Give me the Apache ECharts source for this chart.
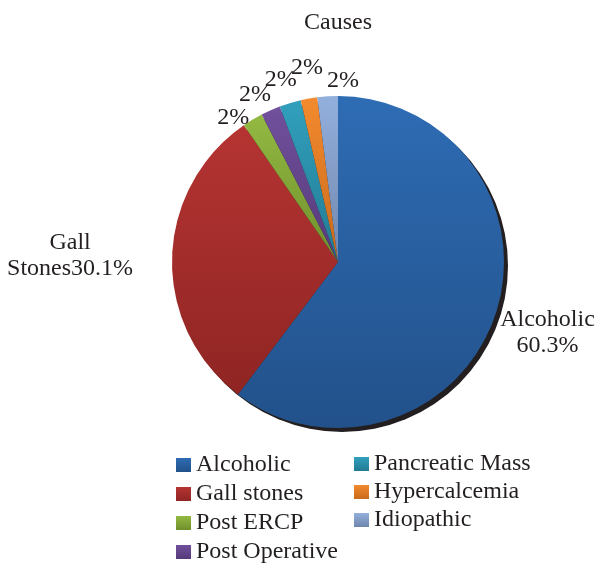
<!DOCTYPE html>
<html>
<head>
<meta charset="utf-8">
<script src="https://cdn.jsdelivr.net/npm/echarts@6/dist/echarts.min.js"></script>
<style>html,body{margin:0;padding:0;background:#fff;}#c{width:598px;height:565px;}</style>
</head>
<body>
<div id="c"></div>
<script>
var categories = ['Alcoholic', 'Gall stones', 'Post ERCP', 'Post Operative', 'Pancreatic Mass', 'Hypercalcemia', 'Idiopathic'];
var values = [60.3, 30.1, 2.0, 1.9, 2.1, 1.6, 2.0];
var labelTexts = ['Alcoholic\n60.3%', 'Gall\nStones30.1%', '2%', '2%', '2%', '2%', '2%'];
var colorsTop = ['#2e6cb4', '#b53432', '#93b942', '#71509c', '#31a0bd', '#f38a2e', '#93afdc'];
var colorsBot = ['#22518a', '#8f2523', '#6f8f2c', '#553a7a', '#237a92', '#c86a1c', '#6f87ad'];

// layout / style settings
var FONT = '"Liberation Serif", "Times New Roman", serif';
var CENTER = [338, 262];
var RADIUS = 166;
var labelGap = [55, 102, 12, 20.5, 24.7, 30.5, 15];      // radial distance of label centre beyond pie edge
var labelShift = [0, 0, -5.1, -2.5, -0.7, 1.0, 5.2];      // angular nudge of label (degrees)

var total = values.reduce(function (a, b) { return a + b; }, 0);
var midAngles = [];
(function () {
  var acc = 0;
  for (var i = 0; i < values.length; i++) {
    midAngles.push((acc + values[i] / 2) / total * 2 * Math.PI);
    acc += values[i];
  }
})();

var chart = echarts.init(document.getElementById('c'), null, {renderer: 'canvas'});

function grad(i) {
  return new echarts.graphic.LinearGradient(0, 0, 0, 1, [
    {offset: 0, color: colorsTop[i]},
    {offset: 1, color: colorsBot[i]}
  ]);
}

var pieData = categories.map(function (name, i) {
  return {name: name, value: values[i], itemStyle: {color: grad(i)}, label: {formatter: labelTexts[i]}};
});

var legendText = {fontFamily: FONT, fontSize: 24, color: '#231f20'};

chart.setOption({
  animation: false,
  color: colorsTop,
  title: {
    text: 'Causes', left: 299, top: 6,
    textStyle: {fontFamily: FONT, fontSize: 24, fontWeight: 'normal', color: '#231f20'}
  },
  legend: [{
    data: categories.slice(0, 4),
    orient: 'vertical', left: 171, top: 448, height: 200, itemGap: 5,
    itemWidth: 15, itemHeight: 14, icon: 'rect',
    textStyle: legendText
  }, {
    data: categories.slice(4),
    orient: 'vertical', left: 349, top: 447, height: 200, itemGap: 4,
    itemWidth: 15, itemHeight: 14, icon: 'rect',
    textStyle: legendText
  }],
  series: [{
    type: 'pie', silent: true, z: 1,
    center: [CENTER[0] + 4, CENTER[1] + 4], radius: RADIUS,
    startAngle: 90, clockwise: true,
    label: {show: false}, labelLine: {show: false},
    itemStyle: {color: '#231f20'},
    data: [{value: 1, name: '_shadow'}],
    legendHoverLink: false
  }, {
    type: 'pie', z: 2,
    center: CENTER, radius: RADIUS,
    startAngle: 90, clockwise: true,
    avoidLabelOverlap: false,
    label: {
      show: true, position: 'outside',
      fontFamily: FONT, fontSize: 24, color: '#231f20', lineHeight: 26
    },
    labelLine: {show: false},
    labelLayout: function (p) {
      var i = p.dataIndex;
      var a = midAngles[i] + labelShift[i] * Math.PI / 180;
      var r = RADIUS + labelGap[i];
      return {
        x: CENTER[0] + r * Math.sin(a),
        y: CENTER[1] - r * Math.cos(a),
        align: 'center',
        verticalAlign: 'middle'
      };
    },
    itemStyle: {borderWidth: 0},
    data: pieData
  }]
});
</script>
</body>
</html>
